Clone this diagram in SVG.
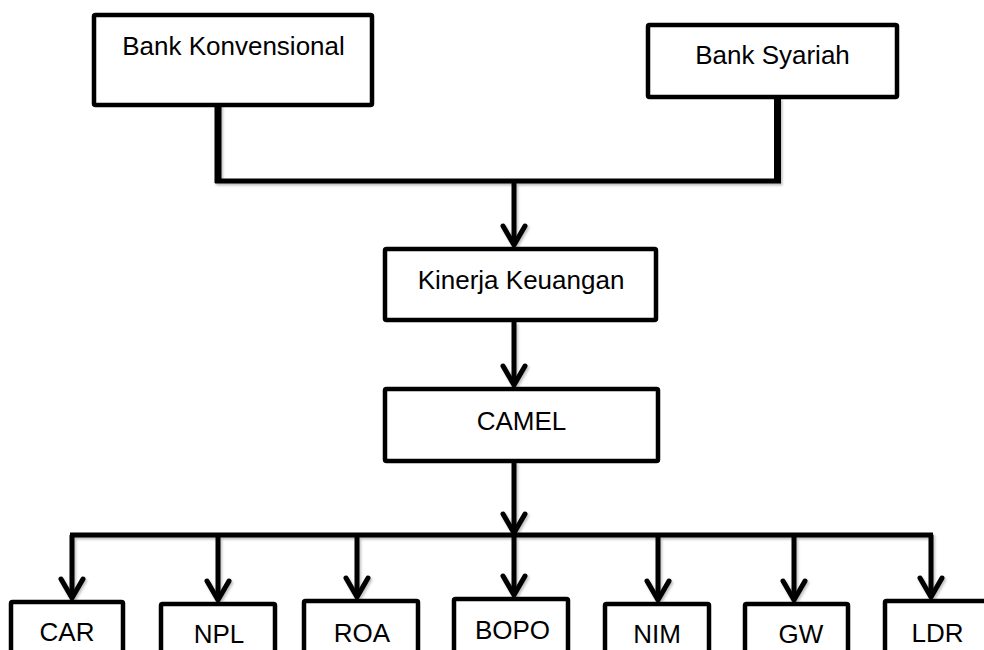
<svg xmlns="http://www.w3.org/2000/svg" width="984" height="650" viewBox="0 0 984 650">
  <defs>
    <style>
      .box { fill: #ffffff; stroke: #000000; stroke-width: 4.5; stroke-linejoin: round; }
      .lbl { font-family: "Liberation Sans", Arial, sans-serif; font-size: 26px; fill: #000000; text-anchor: middle; }
      .thick { fill: none; stroke: #000000; stroke-width: 7; }
      .line { fill: none; stroke: #000000; stroke-width: 5; }
      .arr { fill: none; stroke: #000000; stroke-width: 5; marker-end: url(#chev); }
    </style>
    <marker id="chev" markerUnits="userSpaceOnUse" markerWidth="30" markerHeight="30" viewBox="-24 -15 28 30" refX="0" refY="0" orient="auto">
      <path d="M-19,-11 L0,0 L-19,11" fill="none" stroke="#000000" stroke-width="5" stroke-linejoin="round" stroke-linecap="round"/>
    </marker>
    <filter id="sh" x="-10%" y="-10%" width="120%" height="140%">
      <feDropShadow dx="1.5" dy="2" stdDeviation="1.2" flood-color="#000000" flood-opacity="0.25"/>
    </filter>
  </defs>

  <g id="connectors" filter="url(#sh)">
    <path class="thick" d="M218,104 V183"/>
    <path class="thick" d="M777.5,98 V183"/>
    <path class="line" d="M215,181 H781"/>
    <path class="arr" d="M514,181 V245"/>
    <path class="arr" d="M514,322 V385"/>
    <path class="arr" d="M514,462 V533"/>
    <path class="line" d="M70,535 H933"/>
    <path class="arr" d="M72,535 V598"/>
    <path class="arr" d="M218,535 V600"/>
    <path class="arr" d="M357,535 V597"/>
    <path class="arr" d="M514,535 V595"/>
    <path class="arr" d="M658,535 V600"/>
    <path class="arr" d="M794,535 V600"/>
    <path class="arr" d="M931,535 V597"/>
  </g>

  <g id="bank-konvensional">
    <rect class="box" x="94" y="15" width="278" height="90" rx="1.5"/>
    <text class="lbl" x="233.5" y="55">Bank Konvensional</text>
  </g>
  <g id="bank-syariah">
    <rect class="box" x="648" y="25" width="249" height="72" rx="1.5"/>
    <text class="lbl" x="772.5" y="64">Bank Syariah</text>
  </g>
  <g id="kinerja-keuangan">
    <rect class="box" x="385" y="249" width="271" height="71" rx="1.5"/>
    <text class="lbl" x="521" y="289">Kinerja Keuangan</text>
  </g>
  <g id="camel">
    <rect class="box" x="385" y="389" width="273" height="72" rx="1.5"/>
    <text class="lbl" x="521.5" y="430">CAMEL</text>
  </g>

  <g id="car">
    <rect class="box" x="11" y="602" width="112" height="70" rx="1.5"/>
    <text class="lbl" x="67" y="641">CAR</text>
  </g>
  <g id="npl">
    <rect class="box" x="161" y="604" width="114" height="70" rx="1.5"/>
    <text class="lbl" x="219" y="643">NPL</text>
  </g>
  <g id="roa">
    <rect class="box" x="304" y="601" width="114" height="70" rx="1.5"/>
    <text class="lbl" x="362" y="642">ROA</text>
  </g>
  <g id="bopo">
    <rect class="box" x="454" y="599" width="114" height="70" rx="1.5"/>
    <text class="lbl" x="512.5" y="639">BOPO</text>
  </g>
  <g id="nim">
    <rect class="box" x="605" y="604" width="104" height="70" rx="1.5"/>
    <text class="lbl" x="657" y="643">NIM</text>
  </g>
  <g id="gw">
    <rect class="box" x="745" y="604" width="103" height="70" rx="1.5"/>
    <text class="lbl" x="801" y="643">GW</text>
  </g>
  <g id="ldr">
    <rect class="box" x="885" y="601" width="110" height="70" rx="1.5"/>
    <text class="lbl" x="937.5" y="642">LDR</text>
  </g>
</svg>
